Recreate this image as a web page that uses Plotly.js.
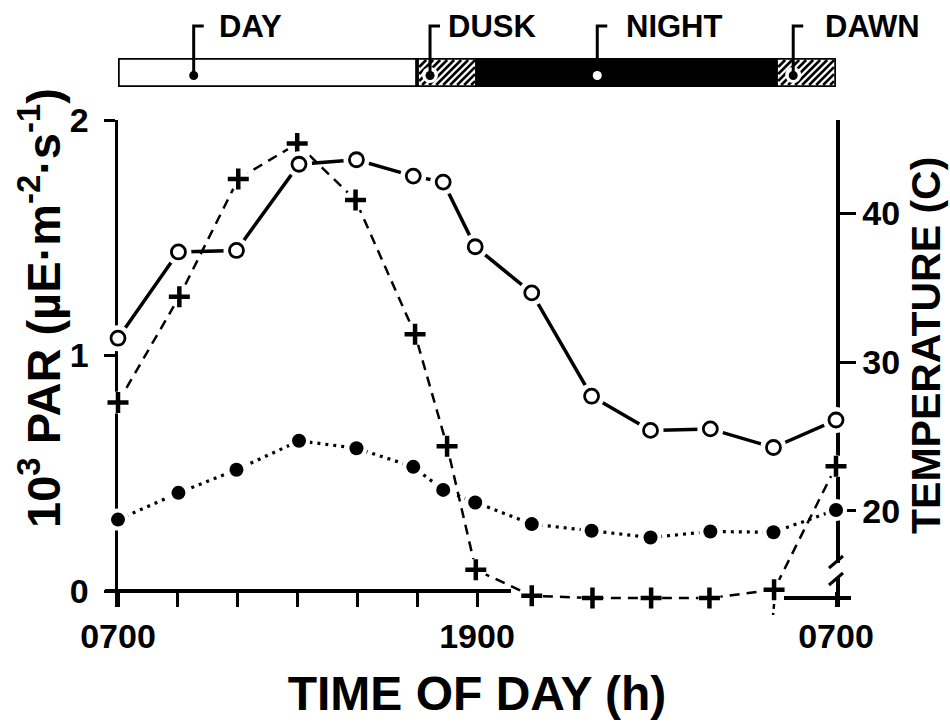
<!DOCTYPE html>
<html><head><meta charset="utf-8">
<script src="https://cdn.plot.ly/plotly-3.0.1.min.js"></script>
<style>html,body{margin:0;padding:0;background:#fff}#chart{width:950px;height:723px}</style>
</head><body><div id="chart"></div>
<script>
// ---------------- data ----------------
const hoursPAR   = [7.0, 9.05, 11.02, 12.99, 14.94, 16.93, 18.0, 18.96, 20.83, 22.86, 24.82, 26.77, 28.93, 31.0];
const parValues  = [0.80, 1.25, 1.75, 1.90, 1.66, 1.09, 0.615, 0.09, -0.02, -0.03, -0.03, -0.03, 0.005, 0.53];
const hoursTemp  = [7.0, 9.02, 10.96, 13.05, 14.97, 16.87, 17.87, 18.94, 20.83, 22.83, 24.8, 26.8, 28.91, 31.0];
const tempOpen   = [31.6, 37.4, 37.5, 43.3, 43.6, 42.5, 42.1, 37.75, 34.65, 27.7, 25.4, 25.5, 24.25, 26.1];
const tempFilled = [19.4, 21.2, 22.75, 24.7, 24.2, 22.95, 21.4, 20.55, 19.1, 18.65, 18.2, 18.6, 18.55, 20.05];
const phaseNames = ['DAY', 'DUSK', 'NIGHT', 'DAWN'];
const phaseStart = [7, 17, 19, 29];
const phaseEnd   = [17, 19, 29, 31];
const xTickVals  = [7, 9, 11, 13, 15, 17, 19, 31];
const xTickText  = ['0700', '', '', '', '', '', '1900', '0700'];
const parTickVals  = [0, 1, 2];
const tempTickVals = [20, 30, 40];
const xTitle = 'TIME OF DAY (h)';
const parTitle = '10<sup>3</sup> PAR (µE·m<sup>-2</sup>·s<sup>-1</sup>)';
const tempTitle = 'TEMPERATURE (C)';

// ---------------- layout geometry ----------------
const W = 950, H = 723;
const PX = {left: 118, right: 836, top: 10, bottom: 607};
const fx = px => (px - PX.left) / (PX.right - PX.left);
const fy = py => (PX.bottom - py) / (PX.bottom - PX.top);
const hourPx = (PX.right - PX.left) / 24;
const hourToPx = h => PX.left + (h - 7) * hourPx;
// PAR axis calibration: 2 at y=120, 0 at y=591
const parTopPx = 120, parZeroPx = 591;
const parUnit = (parZeroPx - parTopPx) / 2;
const parRange = [-(PX.bottom - parZeroPx) / parUnit, 2];
// Temperature axis calibration: 20 at y=510.7, 40 at y=213.3
const t20Px = 510.7, tUnit = (510.7 - 213.3) / 20;
const tempRange = [20 - (PX.bottom - t20Px) / tUnit, 20 + (t20Px - parTopPx) / tUnit];
const mainDomain = [0, fy(parTopPx)];
const barTopPx = 58, barBotPx = 87;
const barDomain = [fy(barBotPx), fy(barTopPx)];

const FONT = 'Liberation Sans, Arial, Helvetica, sans-serif';
const ink = 'black';

// phase-bar decoration positions (hours)
const leaderHour = [9.53, 17.43, 23.02, 29.57];
const labelHour  = [10.3, 17.95, 23.9, 30.55];
const dotColors  = ['black', 'black', 'white', 'black'];
const hatched    = [false, true, false, true];

// ---------------- traces ----------------
const traces = [];
traces.push({x: hoursPAR, y: parValues, xaxis: 'x', yaxis: 'y', mode: 'lines',
  line: {color: ink, width: 2.5, dash: '10px,7px'}, hoverinfo: 'skip'});
traces.push({x: hoursPAR, y: parValues, xaxis: 'x', yaxis: 'y', mode: 'markers', cliponaxis: false,
  marker: {symbol: 'circle', size: 22, color: 'white'}, hoverinfo: 'skip'});
traces.push({x: hoursPAR, y: parValues, xaxis: 'x', yaxis: 'y', mode: 'markers', cliponaxis: false,
  marker: {symbol: 'cross-thin', size: 15, color: ink, line: {color: ink, width: 4.5}}, name: 'PAR'});
traces.push({x: hoursTemp, y: tempOpen, xaxis: 'x', yaxis: 'y2', mode: 'lines',
  line: {color: ink, width: 3.5}, hoverinfo: 'skip'});
traces.push({x: hoursTemp, y: tempFilled, xaxis: 'x', yaxis: 'y2', mode: 'lines',
  line: {color: ink, width: 3.2, dash: '3px,5px'}, hoverinfo: 'skip'});
traces.push({x: hoursTemp, y: tempOpen, xaxis: 'x', yaxis: 'y2', mode: 'markers', cliponaxis: false,
  marker: {symbol: 'circle', size: 26, color: 'white'}, hoverinfo: 'skip'});
traces.push({x: hoursTemp, y: tempFilled, xaxis: 'x', yaxis: 'y2', mode: 'markers', cliponaxis: false,
  marker: {symbol: 'circle', size: 22, color: 'white'}, hoverinfo: 'skip'});
traces.push({x: hoursTemp, y: tempOpen, xaxis: 'x', yaxis: 'y2', mode: 'markers', cliponaxis: false,
  marker: {symbol: 'circle', size: 14, color: 'white', line: {color: ink, width: 2.8}}, name: 'T open'});
traces.push({x: hoursTemp, y: tempFilled, xaxis: 'x', yaxis: 'y2', mode: 'markers', cliponaxis: false,
  marker: {symbol: 'circle', size: 14, color: ink}, name: 'T filled'});
// Phase bar (day / dusk / night / dawn)
traces.push({type: 'bar', orientation: 'h', xaxis: 'x', yaxis: 'y3',
  y: phaseNames.map(() => 0), base: phaseStart, x: phaseEnd.map((e, i) => e - phaseStart[i]),
  width: 1, cliponaxis: false, hoverinfo: 'skip',
  marker: {color: phaseNames.map((n, i) => (i === 2 ? 'black' : 'white')), line: {color: ink, width: 3.5}}});

// ---------------- shapes ----------------
const shapes = [];
// hatching of dusk and dawn
phaseStart.forEach((s, i) => {
  if (!hatched[i]) return;
  const x0 = hourToPx(s) + 2, x1 = hourToPx(phaseEnd[i]) - 2;
  const yt = barTopPx + 2, yb = barBotPx - 2, hgt = yb - yt;
  for (let c = x0 - hgt; c < x1; c += 7) {
    let ax = c, ay = yb, bx = c + hgt, by = yt;
    if (ax < x0) { ay = yb - (x0 - c); ax = x0; }
    if (bx > x1) { by = yb - (x1 - c); bx = x1; }
    if (bx - ax < 1) continue;
    shapes.push({type: 'line', xref: 'paper', yref: 'paper', layer: 'above',
      x0: fx(ax), y0: fy(ay), x1: fx(bx), y1: fy(by), line: {color: ink, width: 2.6}});
  }
});
// x-axis line: long day segment and short segment at the right end
shapes.push({type: 'line', xref: 'paper', yref: 'paper', layer: 'below',
  x0: fx(105), x1: fx(511), y0: fy(parZeroPx), y1: fy(parZeroPx), line: {color: ink, width: 4}});
shapes.push({type: 'line', xref: 'paper', yref: 'paper', layer: 'below',
  x0: fx(784), x1: fx(851), y0: fy(598), y1: fy(598), line: {color: ink, width: 4}});
// short dashed mark below the axis at the start of dawn
shapes.push({type: 'line', xref: 'paper', yref: 'paper', layer: 'below',
  x0: fx(hourToPx(28.93)), x1: fx(hourToPx(28.93) - 1), y0: fy(604), y1: fy(615),
  line: {color: ink, width: 2.5, dash: '5px,4px'}});
// break on the temperature axis
shapes.push({type: 'rect', xref: 'paper', yref: 'paper', layer: 'above',
  x0: fx(829), x1: fx(844), y0: fy(578), y1: fy(563), fillcolor: 'white', line: {width: 0}});
[562, 579].forEach(cy => shapes.push({type: 'line', xref: 'paper', yref: 'paper', layer: 'above',
  x0: fx(829), x1: fx(843), y0: fy(cy + 6), y1: fy(cy - 6), line: {color: ink, width: 3}}));
// leaders for phase labels (dot + vertical + short horizontal)
leaderHour.forEach((h, i) => {
  const cx = hourToPx(h);
  if (hatched[i]) shapes.push({type: 'circle', xref: 'paper', yref: 'paper', layer: 'above',
    x0: fx(cx - 8), x1: fx(cx + 8), y0: fy(83), y1: fy(67), fillcolor: 'white', line: {width: 0}});
  shapes.push({type: 'path', xref: 'paper', yref: 'paper', layer: 'above',
    path: `M ${fx(cx)},${fy(75)} L ${fx(cx)},${fy(26)} L ${fx(cx + 10)},${fy(26)}`,
    line: {color: ink, width: 3}});
  shapes.push({type: 'circle', xref: 'paper', yref: 'paper', layer: 'above',
    x0: fx(cx - 4.5), x1: fx(cx + 4.5), y0: fy(80), y1: fy(71), fillcolor: dotColors[i],
    line: {width: 0}});
});

// ---------------- annotations ----------------
const annotations = phaseNames.map((n, i) => ({
  text: n, xref: 'x', yref: 'paper', x: labelHour[i], y: fy(27), xanchor: 'left', yanchor: 'middle',
  showarrow: false, font: {family: FONT, size: 31, weight: 'bold', color: ink}}));
annotations.push({text: parTitle, xref: 'paper', yref: 'paper', x: fx(40), y: fy(308), textangle: -90,
  xanchor: 'center', yanchor: 'middle', showarrow: false, font: {family: FONT, size: 47, weight: 'bold', color: ink}});
annotations.push({text: tempTitle, xref: 'paper', yref: 'paper', x: fx(926), y: fy(346), textangle: -90,
  xanchor: 'center', yanchor: 'middle', showarrow: false, font: {family: FONT, size: 41, weight: 'bold', color: ink}});

const tickFont = {family: FONT, size: 34, weight: 'bold', color: ink};
const layout = {
  width: W, height: H, showlegend: false, barmode: 'overlay',
  paper_bgcolor: 'white', plot_bgcolor: 'rgba(0,0,0,0)',
  margin: {l: PX.left, r: W - PX.right, t: PX.top, b: H - PX.bottom, pad: 0},
  xaxis: {range: [7, 31], anchor: 'free', position: fy(parZeroPx), showline: false, showgrid: false,
    zeroline: false, tickmode: 'array', tickvals: xTickVals, ticktext: xTickText, ticks: 'outside',
    ticklen: 15, tickwidth: 3, tickcolor: ink, tickfont: tickFont, layer: 'below traces',
    title: {text: xTitle, font: {family: FONT, size: 48, weight: 'bold', color: ink}, standoff: 22}},
  yaxis: {domain: mainDomain, range: parRange, anchor: 'x', showline: true, linewidth: 3.5, linecolor: ink,
    showgrid: false, zeroline: false, tickmode: 'array', tickvals: parTickVals, ticks: 'outside',
    ticklen: 11, tickwidth: 3, tickcolor: ink, tickfont: tickFont, ticklabelstandoff: 8, layer: 'below traces'},
  yaxis2: {domain: mainDomain, range: tempRange, overlaying: 'y', side: 'right', anchor: 'x', showline: true,
    linewidth: 3.5, linecolor: ink, showgrid: false, zeroline: false, tickmode: 'array', tickvals: tempTickVals,
    ticks: 'outside', ticklen: 16, tickwidth: 3, tickcolor: ink, tickfont: tickFont, layer: 'below traces'},
  yaxis3: {domain: barDomain, range: [-0.5, 0.5], anchor: 'x', visible: false, fixedrange: true},
  shapes: shapes, annotations: annotations
};
Plotly.newPlot('chart', traces, layout, {displayModeBar: false, staticPlot: true});
</script></body></html>
